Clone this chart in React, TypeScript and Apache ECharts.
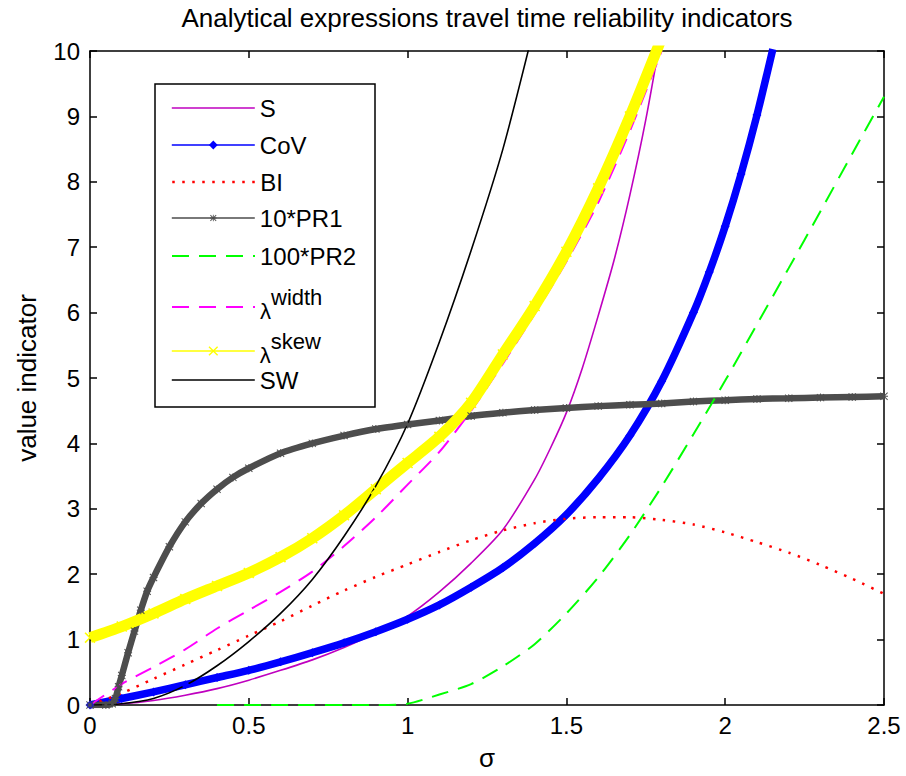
import React, { useEffect, useRef } from "react";
import * as echarts from "echarts";

const TITLE = "Analytical expressions travel time reliability indicators";
const X_NAME = "σ";
const Y_NAME = "value indicator";
const SERIES_NAMES = ["S", "CoV", "BI", "10*PR1", "100*PR2", "λwidth", "λskew", "SW"];

// S
const S_SIGMA = [0, 0.1, 0.2, 0.3, 0.4, 0.5, 0.6, 0.7, 0.8, 0.9, 1.0, 1.1, 1.2, 1.3, 1.4, 1.45, 1.5, 1.55, 1.6, 1.65, 1.7, 1.75, 1.8];
const S_VALUES = [0, 0.02, 0.07, 0.15, 0.25, 0.38, 0.53, 0.69, 0.88, 1.1, 1.36, 1.73, 2.17, 2.68, 3.45, 3.93, 4.47, 5.15, 5.95, 6.8, 7.8, 8.95, 10.3];

// CoV
const COV_SIGMA = [0, 0.1, 0.2, 0.3, 0.4, 0.5, 0.6, 0.7, 0.8, 0.9, 1.0, 1.1, 1.2, 1.3, 1.4, 1.5, 1.6, 1.7, 1.8, 1.9, 1.95, 2.0, 2.05, 2.1, 2.15];
const COV_VALUES = [0, 0.1, 0.2, 0.31, 0.42, 0.53, 0.66, 0.8, 0.95, 1.12, 1.31, 1.53, 1.8, 2.1, 2.47, 2.91, 3.46, 4.12, 4.95, 6.0, 6.62, 7.32, 8.12, 9.02, 10.03];

// BI
const BI_SIGMA = [0, 0.1, 0.2, 0.3, 0.4, 0.5, 0.6, 0.7, 0.8, 0.9, 1.0, 1.1, 1.2, 1.3, 1.4, 1.5, 1.6, 1.7, 1.8, 1.9, 2.0, 2.1, 2.2, 2.3, 2.4, 2.5];
const BI_VALUES = [0, 0.18, 0.4, 0.62, 0.84, 1.06, 1.28, 1.52, 1.75, 1.96, 2.15, 2.34, 2.52, 2.67, 2.78, 2.85, 2.87, 2.87, 2.83, 2.76, 2.64, 2.49, 2.33, 2.14, 1.93, 1.7];

// 10*PR1
const PR1_SIGMA = [0, 0.05, 0.07, 0.08, 0.09, 0.1, 0.12, 0.14, 0.16, 0.18, 0.2, 0.25, 0.3, 0.35, 0.4, 0.45, 0.5, 0.6, 0.7, 0.8, 0.9, 1.0, 1.1, 1.2, 1.3, 1.4, 1.5, 1.6, 1.7, 1.8, 1.9, 2.0, 2.1, 2.2, 2.3, 2.4, 2.5];
const PR1_VALUES = [0, 0, 0.02, 0.1, 0.28, 0.45, 0.8, 1.13, 1.45, 1.74, 1.95, 2.42, 2.8, 3.08, 3.3, 3.48, 3.62, 3.85, 4.0, 4.12, 4.22, 4.29, 4.35, 4.42, 4.47, 4.51, 4.54, 4.57, 4.59, 4.61, 4.64, 4.66, 4.68, 4.69, 4.7, 4.71, 4.72];

// 100*PR2
const PR2_SIGMA = [0.4, 0.5, 0.6, 0.7, 0.8, 0.9, 1.0, 1.1, 1.2, 1.3, 1.4, 1.5, 1.6, 1.7, 1.8, 1.9, 2.0, 2.1, 2.2, 2.3, 2.4, 2.5];
const PR2_VALUES = [0, 0, 0, 0, 0, 0, 0.02, 0.16, 0.32, 0.59, 0.93, 1.4, 1.95, 2.6, 3.34, 4.14, 4.96, 5.82, 6.68, 7.55, 8.43, 9.3];

// lambda width
const LW_SIGMA = [0, 0.1, 0.2, 0.3, 0.4, 0.5, 0.6, 0.7, 0.8, 0.9, 1.0, 1.1, 1.2, 1.3, 1.4, 1.5, 1.6, 1.7, 1.8];
const LW_VALUES = [0, 0.32, 0.58, 0.85, 1.17, 1.45, 1.73, 2.04, 2.43, 2.87, 3.37, 3.87, 4.5, 5.22, 5.98, 6.78, 7.68, 8.78, 10.0];

// lambda skew
const LS_SIGMA = [0, 0.1, 0.2, 0.3, 0.4, 0.5, 0.6, 0.7, 0.8, 0.9, 1.0, 1.1, 1.2, 1.3, 1.4, 1.5, 1.6, 1.7, 1.8];
const LS_VALUES = [1.03, 1.2, 1.4, 1.62, 1.82, 2.02, 2.26, 2.55, 2.9, 3.3, 3.7, 4.1, 4.62, 5.36, 6.1, 6.93, 7.9, 9.0, 10.2];

// SW
const SW_SIGMA = [0, 0.1, 0.2, 0.3, 0.4, 0.5, 0.6, 0.7, 0.8, 0.9, 1.0, 1.1, 1.2, 1.3, 1.4];
const SW_VALUES = [0, 0.02, 0.1, 0.3, 0.6, 0.97, 1.4, 1.92, 2.58, 3.35, 4.3, 5.55, 6.95, 8.5, 10.4];

const FONT = "'Liberation Sans', Arial, Helvetica, sans-serif";
const STAR = "path://M4.4,0h1.2v10h-1.2z M0,4.4h10v1.2h-10z M0.9,0.05L9.95,9.1L9.1,9.95L0.05,0.9z M9.1,0.05L9.95,0.9L0.9,9.95L0.05,9.1z";
const XMARK = "path://M0,1L1,0L5,4L9,0L10,1L6,5L10,9L9,10L5,6L1,10L0,9L4,5Z";

const pairs = (xs: number[], ys: number[]) => xs.map((x, i) => [x, ys[i]]);

function buildOption() {
  const axisLine = { show: true, onZero: false, lineStyle: { color: "#000", width: 1.5 } };
  const axisTick = { show: true, inside: true, length: 7, lineStyle: { color: "#000", width: 1.5 } };
  const base = { silent: true, clip: true, emphasis: { disabled: true }, smooth: 0.25 };

  const series: any[] = [
    { ...base, name: SERIES_NAMES[0], type: "line", data: pairs(S_SIGMA, S_VALUES), showSymbol: false, symbol: "none",
      lineStyle: { color: "#bf00bf", width: 1.6 }, itemStyle: { color: "#bf00bf" } },
    { ...base, name: SERIES_NAMES[1], type: "line", data: pairs(COV_SIGMA, COV_VALUES), symbol: "diamond", symbolSize: 9,
      lineStyle: { color: "#0000ff", width: 7.5 }, itemStyle: { color: "#0000ff", borderWidth: 0 } },
    { ...base, name: SERIES_NAMES[2], type: "line", data: pairs(BI_SIGMA, BI_VALUES), showSymbol: false, symbol: "none",
      lineStyle: { color: "#ff0000", width: 2.5, type: [2.5, 7.5] }, itemStyle: { color: "#ff0000" } },
    { ...base, name: SERIES_NAMES[3], type: "line", data: pairs(PR1_SIGMA, PR1_VALUES), symbol: STAR, symbolSize: 8,
      lineStyle: { color: "#4d4d4d", width: 6.5 }, itemStyle: { color: "#4d4d4d", borderWidth: 0 } },
    { ...base, name: SERIES_NAMES[4], type: "line", data: pairs(PR2_SIGMA, PR2_VALUES), showSymbol: false, symbol: "none",
      lineStyle: { color: "#00ff00", width: 2, type: [17, 10] }, itemStyle: { color: "#00ff00" } },
    { ...base, name: SERIES_NAMES[5], type: "line", data: pairs(LW_SIGMA, LW_VALUES), showSymbol: false, symbol: "none",
      lineStyle: { color: "#ff00ff", width: 2, type: [17, 10] }, itemStyle: { color: "#ff00ff" } },
    { ...base, name: SERIES_NAMES[6], type: "line", data: pairs(LS_SIGMA, LS_VALUES), symbol: XMARK, symbolSize: 11,
      lineStyle: { color: "#ffff00", width: 11 }, itemStyle: { color: "#ffff00", borderWidth: 0 } },
    { ...base, name: SERIES_NAMES[7], type: "line", data: pairs(SW_SIGMA, SW_VALUES), showSymbol: false, symbol: "none",
      lineStyle: { color: "#000000", width: 1.6 }, itemStyle: { color: "#000000" } },
  ];

  const legendCenters = [108, 145, 182, 218, 256, 298, 342, 380];
  const legendLineWidth = [1.6, 1.6, 2.5, 1.6, 2, 2, 1.6, 1.6];
  const legendItemHeight = [11, 11, 11, 8, 11, 11, 12, 11];
  const hideSymbol = [true, false, true, false, true, true, false, true];
  const rich = {
    l: { fontSize: 22, lineHeight: 24, fontFamily: FONT, color: "#000", padding: [8, 0, 0, 0] },
    s: { fontSize: 22, lineHeight: 24, fontFamily: FONT, color: "#000", padding: [0, 0, 20, 0] },
  };
  const legend = SERIES_NAMES.map((name, i) => ({
    data: [name],
    orient: "vertical",
    left: 171,
    top: legendCenters[i] - 12,
    padding: 0,
    itemWidth: 83,
    itemHeight: legendItemHeight[i],
    itemGap: 0,
    selectedMode: false,
    z: 5,
    textStyle: { fontSize: 24, lineHeight: 24, color: "#000", fontFamily: FONT, rich },
    formatter: name === "λwidth" ? "{l|λ}{s|width}" : name === "λskew" ? "{l|λ}{s|skew}" : "{name}",
    lineStyle: { width: legendLineWidth[i] },
    itemStyle: hideSymbol[i] ? { opacity: 0 } : {},
  }));

  return {
    animation: false,
    backgroundColor: "#ffffff",
    title: {
      text: TITLE,
      left: 487,
      textAlign: "center",
      top: 5,
      padding: 0,
      textStyle: { fontSize: 26, fontWeight: "normal", color: "#000", fontFamily: FONT },
    },
    grid: { left: 90, right: 22, top: 51, bottom: 69, containLabel: false },
    xAxis: [
      {
        type: "value", min: 0, max: 2.5, interval: 0.5, position: "bottom",
        name: X_NAME, nameLocation: "middle", nameGap: 40,
        nameTextStyle: { fontSize: 26, color: "#000", fontFamily: FONT },
        axisLine, axisTick,
        axisLabel: { fontSize: 24, color: "#000", margin: 8, fontFamily: FONT },
        splitLine: { show: false },
      },
      {
        type: "value", min: 0, max: 2.5, interval: 0.5, position: "top",
        axisLine, axisTick, axisLabel: { show: false }, splitLine: { show: false },
      },
    ],
    yAxis: [
      {
        type: "value", min: 0, max: 10, interval: 1, position: "left",
        name: Y_NAME, nameLocation: "middle", nameGap: 50, nameRotate: 90,
        nameTextStyle: { fontSize: 26, color: "#000", fontFamily: FONT },
        axisLine, axisTick,
        axisLabel: { fontSize: 24, color: "#000", margin: 10, fontFamily: FONT },
        splitLine: { show: false },
      },
      {
        type: "value", min: 0, max: 10, interval: 1, position: "right",
        axisLine, axisTick, axisLabel: { show: false }, splitLine: { show: false },
      },
    ],
    legend,
    graphic: [
      {
        type: "rect", z: 3, silent: true,
        shape: { x: 155, y: 84, width: 220, height: 323 },
        style: { fill: "#ffffff", stroke: "#000000", lineWidth: 1.5 },
      },
    ],
    series,
  };
}

export default function App() {
  const ref = useRef<HTMLDivElement>(null);
  useEffect(() => {
    if (!ref.current) return;
    const chart = echarts.init(ref.current, null, { renderer: "svg" });
    chart.setOption(buildOption() as any);
    return () => chart.dispose();
  }, []);
  return (
    <div
      ref={ref}
      style={{ position: "fixed", left: 0, top: 0, width: 906, height: 776, background: "#fff" }}
    />
  );
}
